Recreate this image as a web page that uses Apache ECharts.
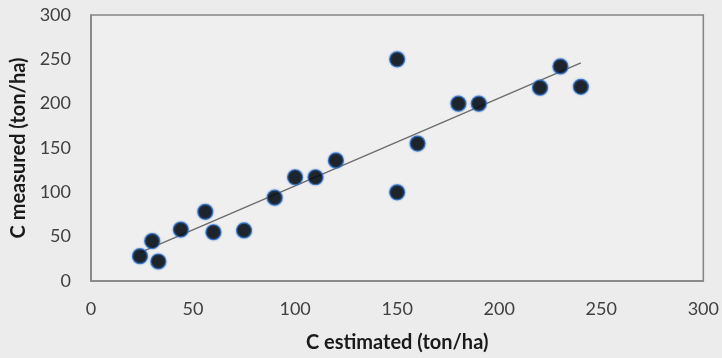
<!DOCTYPE html>
<html>
<head>
<meta charset="utf-8">
<script src="https://cdn.jsdelivr.net/npm/echarts@6/dist/echarts.min.js"></script>
<style>
  html, body { margin: 0; padding: 0; background: #ececec; }
  #chart { width: 722px; height: 358px; }
</style>
</head>
<body>
<div id="chart"></div>
<script>
// measured vs estimated carbon points
var estimated = [24, 30, 33, 44, 56, 60, 75, 90, 100, 110, 120, 150, 150, 160, 180, 190, 220, 230, 240]
var measured = [28, 45, 22, 58, 78, 55, 57, 94, 117, 117, 136, 100, 250, 155, 200, 200, 218, 242, 219]
// trendline end points
var trendX = [24, 240]
var trendY = [32, 246]

var fontColor = '#404040'
var lineColor = '#858585'
var fontFamily = 'Lato, "Open Sans", sans-serif'

var points = estimated.map(function (x, i) { return [x, measured[i]] })
var trend = trendX.map(function (x, i) { return [x, trendY[i]] })

var myChart = echarts.init(document.getElementById('chart'))

var option = {
  backgroundColor: '#ececec',
  animation: false,
  grid: {
    left: 91,
    right: 18,
    top: 15,
    bottom: 73,
    show: true,
    backgroundColor: '#efefef',
    borderColor: lineColor,
    borderWidth: 1.5
  },
  xAxis: {
    type: 'value',
    min: 0,
    max: 300,
    interval: 50,
    name: 'C estimated (ton/ha)',
    nameLocation: 'middle',
    nameGap: 52,
    nameTextStyle: { color: '#1a1a1a', fontWeight: 'bold', fontSize: 20, fontFamily: fontFamily },
    axisLine: { show: true, lineStyle: { color: lineColor, width: 1.5 } },
    axisTick: { show: false },
    splitLine: { show: false },
    axisLabel: { color: fontColor, fontSize: 18, margin: 19, fontFamily: fontFamily }
  },
  yAxis: {
    type: 'value',
    min: 0,
    max: 300,
    interval: 50,
    name: 'C measured (ton/ha)',
    nameLocation: 'middle',
    nameGap: 58,
    nameTextStyle: { color: '#1a1a1a', fontWeight: 'bold', fontSize: 20, fontFamily: fontFamily },
    axisLine: { show: true, lineStyle: { color: lineColor, width: 1.5 } },
    axisTick: { show: false },
    splitLine: { show: false },
    axisLabel: { color: fontColor, fontSize: 18, margin: 20, fontFamily: fontFamily }
  },
  series: [
    {
      name: 'trend',
      type: 'line',
      data: trend,
      symbol: 'none',
      lineStyle: { color: '#6e6e6e', width: 1.5 },
      z: 2
    },
    {
      name: 'C',
      type: 'scatter',
      data: points,
      symbolSize: 15,
      itemStyle: {
        color: '#000000',
        borderColor: '#2f70c8',
        borderWidth: 1.2,
        shadowColor: 'rgba(47,112,200,0.6)',
        shadowBlur: 2
      },
      z: 3
    }
  ]
}

myChart.setOption(option, true)
</script>
</body>
</html>
